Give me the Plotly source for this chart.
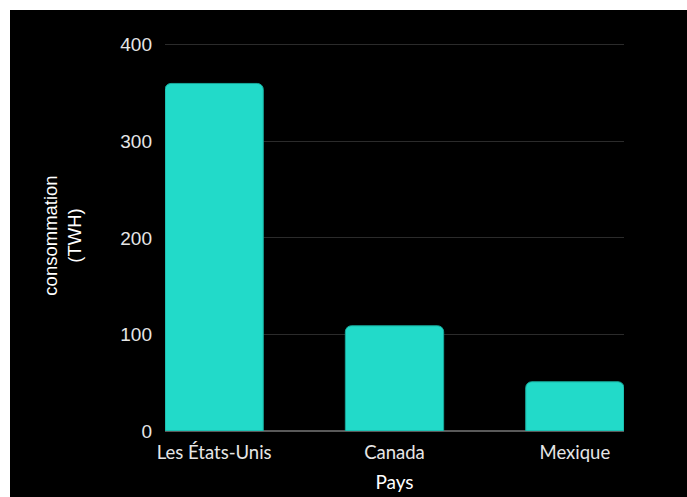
import plotly.graph_objects as go

# Electricity consumption by country
pays = ["Les États-Unis", "Canada", "Mexique"]
consommation = [360, 109, 51]
y_ticks = [0, 100, 200, 300, 400]

W, H = 687, 497
M_L, M_R, M_T, M_B = 165, 63, 40, 66
plot_w = W - M_L - M_R
plot_h = H - M_T - M_B
FRAME = 10  # white frame along the top and left edges, in px

fig = go.Figure(
    go.Bar(
        x=pays,
        y=consommation,
        width=0.545,
        marker=dict(color="#22dac9", line=dict(color="#17a89a", width=1)),
    )
)

# thin white frame on the top and left of the dark canvas
fig.add_shape(
    type="rect", xref="paper", yref="paper", layer="above",
    x0=-M_L / plot_w, x1=(W - M_L) / plot_w,
    y0=(H - M_B - FRAME) / plot_h, y1=(H - M_B) / plot_h,
    fillcolor="#ffffff", line=dict(width=0),
)
fig.add_shape(
    type="rect", xref="paper", yref="paper", layer="above",
    x0=-M_L / plot_w, x1=(FRAME - M_L) / plot_w,
    y0=-M_B / plot_h, y1=(H - M_B) / plot_h,
    fillcolor="#ffffff", line=dict(width=0),
)

fig.update_layout(
    width=W,
    height=H,
    margin=dict(l=M_L, r=M_R, t=M_T, b=M_B, pad=0, autoexpand=False),
    paper_bgcolor="#000000",
    plot_bgcolor="#000000",
    barcornerradius=6,
    showlegend=False,
    xaxis=dict(
        range=[-0.2725, 2.2725],
        automargin=False,
        showgrid=False,
        showline=False,
        ticks="",
        ticklabelstandoff=8,
        tickfont=dict(family="Lato", size=18.5, color="#e6e6e6"),
        title=dict(text="Pays", font=dict(family="Lato", size=19, color="#ffffff"), standoff=14),
    ),
    yaxis=dict(
        range=[0, 405],
        automargin=False,
        tickvals=y_ticks,
        showgrid=True,
        gridcolor="#2b2b2b",
        gridwidth=1,
        zeroline=True,
        zerolinecolor="#595959",
        zerolinewidth=1.5,
        ticks="",
        ticklabelstandoff=12,
        tickfont=dict(family="Liberation Sans", size=19, color="#e6e6e6"),
        title=dict(
            text="consommation<br>(TWH)",
            font=dict(family="Liberation Sans", size=18.5, color="#ffffff"),
            standoff=33,
        ),
    ),
)

fig.write_html("out.html")
